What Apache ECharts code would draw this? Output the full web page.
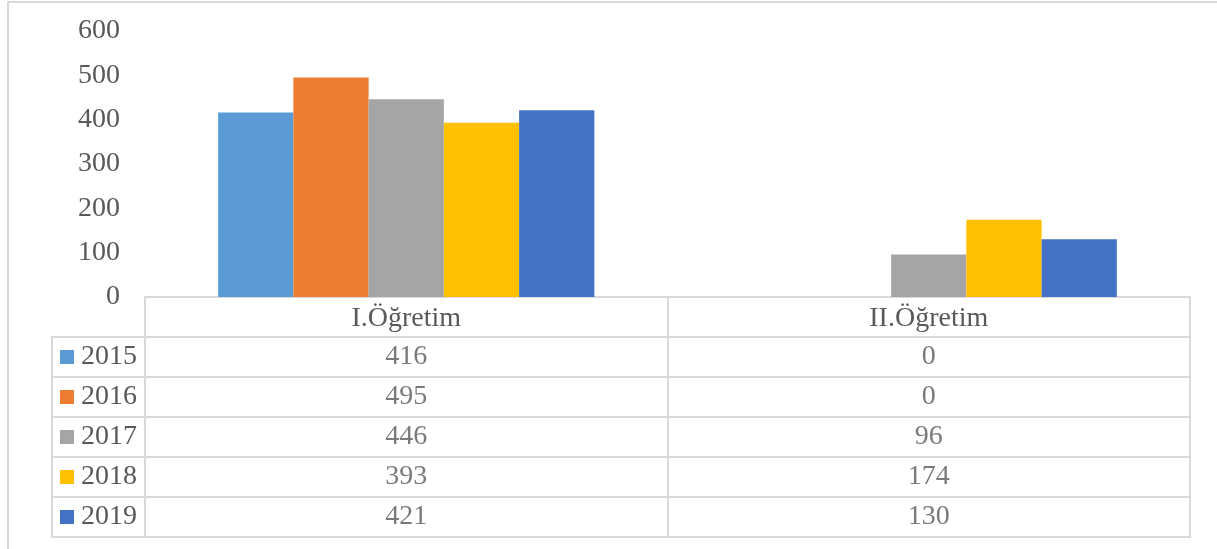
<!DOCTYPE html>
<html>
<head>
<meta charset="utf-8">
<style>
html, body { margin: 0; padding: 0; background: #fff; overflow: hidden; }
.frame { position: absolute; left: 7px; top: 1px; width: 1400px; height: 700px; border: 2px solid #d9d9d9; }
.barChart { position: absolute; left: 0; top: 0; width: 1217px; height: 549px; }
</style>
</head>
<body>
<div class="frame"></div>
<div class="barChart" id="barChart"></div>
<script src="https://cdn.jsdelivr.net/npm/echarts@6/dist/echarts.min.js"></script>
<script>
// data
const categories = ['I.Öğretim', 'II.Öğretim']
const years = ['2015', '2016', '2017', '2018', '2019']
const values2015 = [416, 0]
const values2016 = [495, 0]
const values2017 = [446, 96]
const values2018 = [393, 174]
const values2019 = [421, 130]
const yearValues = [values2015, values2016, values2017, values2018, values2019]
const yMin = 0
const yMax = 600
const yStep = 100

const colors = ['#5b9bd5', '#ed7d31', '#a5a5a5', '#ffc000', '#4472c4']
const textColor = '#595959'
const lineColor = '#d9d9d9'
const font = '"Liberation Serif", "Times New Roman", serif'

const chart = echarts.init(document.getElementById('barChart'))

// bars
const barSeries = years.map((y, i) => ({
  name: y,
  type: 'bar',
  xAxisIndex: 0,
  yAxisIndex: 0,
  barGap: '0%',
  barCategoryGap: '28%',
  itemStyle: { color: colors[i] },
  data: yearValues[i]
}))

// table cells
const cellData = []
years.forEach((y, i) => {
  categories.forEach((c, j) => {
    cellData.push([j, i, yearValues[i][j]])
  })
})

const legendRich = { t: { fontSize: 28, fontFamily: font, color: textColor, padding: [0, 0, 0, 7] } }
colors.forEach((c, i) => {
  legendRich['k' + i] = { width: 14, height: 14, backgroundColor: c }
})

chart.setOption({
  backgroundColor: 'transparent',
  animation: false,
  grid: [
    { left: 145, right: 27, top: 31, bottom: 252 },
    { left: 145, right: 27, top: 337, bottom: 12, show: true, borderColor: lineColor, borderWidth: 2 }
  ],
  xAxis: [
    {
      gridIndex: 0,
      type: 'category',
      data: categories,
      axisLine: { lineStyle: { color: lineColor, width: 2 } },
      axisTick: { show: true, length: 40, lineStyle: { color: lineColor, width: 2 } },
      axisLabel: { fontSize: 28, fontFamily: font, color: textColor, margin: 2, lineHeight: 40 }
    },
    {
      gridIndex: 1,
      type: 'category',
      data: categories,
      axisLine: { show: false },
      axisTick: { show: false },
      axisLabel: { show: false },
      splitLine: { show: true, lineStyle: { color: lineColor, width: 2 } }
    }
  ],
  yAxis: [
    {
      gridIndex: 0,
      type: 'value',
      min: yMin,
      max: yMax,
      interval: yStep,
      axisLine: { show: false },
      axisTick: { show: false },
      splitLine: { show: false },
      axisLabel: { fontSize: 28, fontFamily: font, color: textColor, margin: 25, padding: [5, 0, 0, 0] }
    },
    {
      gridIndex: 1,
      type: 'category',
      data: years,
      inverse: true,
      axisLine: { show: true, lineStyle: { color: lineColor, width: 2 } },
      axisTick: { show: true, length: 93, lineStyle: { color: lineColor, width: 2 } },
      splitLine: { show: true, lineStyle: { color: lineColor, width: 2 } },
      axisLabel: {
        margin: 8,
        formatter: (val, idx) => '{k' + idx + '|}{t|' + val + '}',
        rich: legendRich
      }
    },
    {
      gridIndex: 1,
      type: 'category',
      data: years,
      inverse: true,
      position: 'left',
      offset: 93,
      axisLine: { show: true, lineStyle: { color: lineColor, width: 2 } },
      axisTick: { show: false },
      axisLabel: { show: false }
    }
  ],
  series: barSeries.concat([{
    type: 'scatter',
    xAxisIndex: 1,
    yAxisIndex: 1,
    symbolSize: 0,
    silent: true,
    label: {
      show: true,
      position: 'inside',
      fontSize: 28,
      fontFamily: font,
      color: textColor,
      formatter: p => p.value[2]
    },
    data: cellData
  }])
})
</script>
</body>
</html>
